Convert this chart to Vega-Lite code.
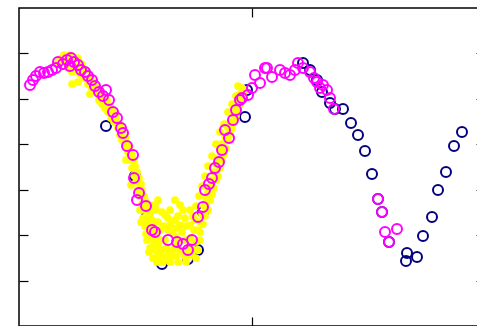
{
  "$schema": "https://vega.github.io/schema/vega-lite/v6.json",
  "width": 466,
  "height": 318,
  "autosize": {"type": "none"},
  "padding": {"left": 19, "top": 8, "right": 0, "bottom": 0},
  "background": "white",
  "config": {
    "view": {"stroke": "#000000", "strokeWidth": 1.5},
    "axis": {"domain": false, "labels": false, "title": null, "grid": false, "ticks": true, "tickSize": -9, "tickColor": "#000000", "tickWidth": 1.2}
  },
  "datasets": {
    "navy": [
      {"x":87,"y":200},{"x":116,"y":150},{"x":128,"y":110},{"x":143,"y":62},{"x":169,"y":67},{"x":179,"y":76},{"x":184,"y":114},{"x":226,"y":209},{"x":228,"y":236},{"x":284,"y":263},{"x":291,"y":256},{"x":298,"y":246},{"x":303,"y":234},{"x":311,"y":223},{"x":316,"y":217},{"x":324,"y":217},{"x":332,"y":203},{"x":339,"y":191},{"x":346,"y":175},{"x":353,"y":152},{"x":359,"y":127},{"x":363,"y":114},{"x":370,"y":84},{"x":388,"y":73},{"x":387,"y":65},{"x":398,"y":69},{"x":404,"y":90},{"x":413,"y":109},{"x":419,"y":136},{"x":427,"y":154},{"x":435,"y":180},{"x":443,"y":194}
    ],
    "yellow": [
      {"x":39,"y":264},{"x":43,"y":268},{"x":47,"y":266},{"x":51,"y":271},{"x":55,"y":266},{"x":49,"y":258},{"x":53,"y":254},{"x":57,"y":258},{"x":61,"y":252},{"x":65,"y":248},{"x":59,"y":244},{"x":53,"y":242},{"x":69,"y":242},{"x":73,"y":238},{"x":71,"y":232},{"x":77,"y":234},{"x":80,"y":226},{"x":83,"y":222},{"x":86,"y":218},{"x":89,"y":214},{"x":85,"y":230},{"x":92,"y":208},{"x":95,"y":204},{"x":97,"y":212},{"x":99,"y":198},{"x":101,"y":191},{"x":103,"y":186},{"x":106,"y":180},{"x":109,"y":174},{"x":107,"y":166},{"x":111,"y":166},{"x":113,"y":158},{"x":115,"y":151},{"x":117,"y":144},{"x":112,"y":141},{"x":119,"y":136},{"x":121,"y":130},{"x":123,"y":122},{"x":125,"y":116},{"x":127,"y":108},{"x":129,"y":102},{"x":122,"y":104},{"x":131,"y":96},{"x":133,"y":88},{"x":135,"y":82},{"x":137,"y":76},{"x":139,"y":70},{"x":141,"y":64},{"x":144,"y":64},{"x":147,"y":68},{"x":149,"y":74},{"x":153,"y":76},{"x":157,"y":80},{"x":161,"y":76},{"x":165,"y":71},{"x":169,"y":74},{"x":173,"y":78},{"x":177,"y":84},{"x":156,"y":90},{"x":146,"y":86},{"x":139,"y":104},{"x":143,"y":114},{"x":151,"y":101},{"x":159,"y":110},{"x":163,"y":94},{"x":167,"y":100},{"x":171,"y":88},{"x":175,"y":96},{"x":179,"y":96},{"x":181,"y":104},{"x":183,"y":112},{"x":185,"y":120},{"x":187,"y":128},{"x":189,"y":134},{"x":191,"y":140},{"x":193,"y":146},{"x":195,"y":154},{"x":197,"y":162},{"x":199,"y":168},{"x":201,"y":176},{"x":203,"y":182},{"x":206,"y":190},{"x":209,"y":198},{"x":211,"y":204},{"x":214,"y":212},{"x":217,"y":218},{"x":219,"y":226},{"x":221,"y":232},{"x":223,"y":238},{"x":219,"y":240},{"x":127,"y":92},{"x":131,"y":78},{"x":177,"y":68},{"x":167,"y":64},{"x":151,"y":64},{"x":157,"y":70},{"x":141,"y":96},{"x":137,"y":116},{"x":131,"y":121},{"x":126,"y":126},
      {"x":45,"y":271},{"x":59,"y":268},{"x":63,"y":262},{"x":67,"y":256},{"x":71,"y":248},{"x":75,"y":244},{"x":79,"y":238},{"x":82,"y":232},{"x":88,"y":226},{"x":91,"y":220},{"x":93,"y":216},{"x":97,"y":208},{"x":101,"y":202},{"x":104,"y":196},{"x":107,"y":188},{"x":108,"y":182},{"x":110,"y":178},{"x":113,"y":172},{"x":115,"y":166},{"x":116,"y":160},{"x":118,"y":154},{"x":120,"y":148},{"x":122,"y":142},{"x":123,"y":136},{"x":125,"y":130},{"x":127,"y":124},{"x":129,"y":118},{"x":131,"y":112},{"x":133,"y":106},{"x":134,"y":100},{"x":136,"y":94},{"x":138,"y":88},{"x":139,"y":82},{"x":141,"y":76},{"x":143,"y":70},{"x":121,"y":116},{"x":124,"y":108},{"x":126,"y":100},{"x":128,"y":86},{"x":130,"y":74},{"x":134,"y":68},{"x":138,"y":64},{"x":133,"y":116},{"x":136,"y":121},
      {"x":146,"y":111},{"x":151,"y":116},{"x":156,"y":106},{"x":161,"y":101},{"x":166,"y":108},{"x":171,"y":101},{"x":176,"y":106},{"x":153,"y":94},{"x":159,"y":86},{"x":165,"y":86},{"x":171,"y":80},{"x":147,"y":78},{"x":151,"y":70},{"x":159,"y":64},{"x":167,"y":68},{"x":173,"y":71},{"x":179,"y":76},{"x":181,"y":86},{"x":141,"y":86},{"x":145,"y":100},{"x":149,"y":96},{"x":157,"y":98},{"x":164,"y":116},{"x":171,"y":116},{"x":149,"y":108},{"x":161,"y":121},{"x":156,"y":126},{"x":139,"y":126},
      {"x":181,"y":94},{"x":184,"y":102},{"x":186,"y":110},{"x":189,"y":116},{"x":187,"y":122},{"x":191,"y":126},{"x":193,"y":132},{"x":195,"y":138},{"x":197,"y":146},{"x":199,"y":150},{"x":201,"y":158},{"x":203,"y":166},{"x":205,"y":172},{"x":207,"y":178},{"x":209,"y":186},{"x":211,"y":192},{"x":213,"y":198},{"x":215,"y":204},{"x":217,"y":210},{"x":219,"y":216},{"x":221,"y":222},{"x":223,"y":228},{"x":225,"y":234},{"x":217,"y":230},{"x":213,"y":222},{"x":209,"y":214},{"x":205,"y":202},{"x":201,"y":194},{"x":197,"y":182},{"x":193,"y":170},{"x":189,"y":160},{"x":186,"y":150},{"x":183,"y":140},{"x":180,"y":130},{"x":177,"y":120},{"x":174,"y":110}
    ],
    "magenta": [
      {"x":11,"y":241},{"x":14,"y":246},{"x":17,"y":250},{"x":21,"y":254},{"x":25,"y":253},{"x":29,"y":254},{"x":33,"y":256},{"x":37,"y":258},{"x":39,"y":264},{"x":44,"y":262},{"x":48,"y":266},{"x":52,"y":268},{"x":55,"y":264},{"x":51,"y":260},{"x":59,"y":261},{"x":62,"y":256},{"x":66,"y":254},{"x":69,"y":250},{"x":73,"y":246},{"x":76,"y":240},{"x":80,"y":234},{"x":84,"y":230},{"x":87,"y":236},{"x":90,"y":226},{"x":94,"y":214},{"x":98,"y":208},{"x":102,"y":198},{"x":104,"y":193},{"x":108,"y":180},{"x":114,"y":171},{"x":115,"y":148},{"x":120,"y":133},{"x":118,"y":126},{"x":127,"y":120},{"x":133,"y":96},{"x":136,"y":94},{"x":149,"y":86},{"x":158,"y":84},{"x":164,"y":82},{"x":169,"y":76},{"x":173,"y":86},{"x":179,"y":109},{"x":184,"y":119},{"x":186,"y":136},{"x":190,"y":142},{"x":193,"y":148},{"x":196,"y":158},{"x":200,"y":164},{"x":203,"y":176},{"x":206,"y":196},{"x":210,"y":188},{"x":214,"y":206},{"x":217,"y":216},{"x":221,"y":226},{"x":223,"y":228},{"x":229,"y":231},{"x":233,"y":238},{"x":236,"y":251},{"x":241,"y":243},{"x":246,"y":258},{"x":248,"y":258},{"x":253,"y":249},{"x":261,"y":256},{"x":266,"y":253},{"x":271,"y":251},{"x":276,"y":256},{"x":279,"y":263},{"x":284,"y":258},{"x":291,"y":254},{"x":295,"y":248},{"x":298,"y":244},{"x":301,"y":238},{"x":304,"y":241},{"x":308,"y":236},{"x":311,"y":228},{"x":315,"y":217},{"x":359,"y":127},{"x":363,"y":114},{"x":366,"y":94},{"x":378,"y":97},{"x":370,"y":84}
    ]
  },
  "layer": [
    {
      "data": {"name": "navy"},
      "mark": {"type": "point", "filled": false, "color": "#000080", "size": 100, "strokeWidth": 2, "opacity": 1},
      "encoding": {
        "x": {"field": "x", "type": "quantitative", "scale": {"domain": [0, 466], "nice": false, "zero": false}, "axis": {"orient": "bottom", "values": [233]}},
        "y": {"field": "y", "type": "quantitative", "scale": {"domain": [0, 318], "nice": false, "zero": false}, "axis": {"orient": "left", "values": [45.4, 90.9, 136.3, 181.7, 227.1, 272.6]}}
      }
    },
    {
      "data": {"name": "yellow"},
      "mark": {"type": "circle", "color": "#ffff00", "size": 60, "opacity": 1},
      "encoding": {
        "x": {"field": "x", "type": "quantitative", "axis": null},
        "y": {"field": "y", "type": "quantitative", "axis": null}
      }
    },
    {
      "data": {"name": "magenta"},
      "mark": {"type": "point", "filled": false, "color": "#ff00ff", "size": 100, "strokeWidth": 2, "opacity": 1},
      "encoding": {
        "x": {"field": "x", "type": "quantitative", "axis": {"orient": "top", "values": [233]}},
        "y": {"field": "y", "type": "quantitative", "axis": {"orient": "right", "values": [45.4, 90.9, 136.3, 181.7, 227.1, 272.6]}}
      }
    }
  ],
  "resolve": {"axis": {"x": "independent", "y": "independent"}}
}
